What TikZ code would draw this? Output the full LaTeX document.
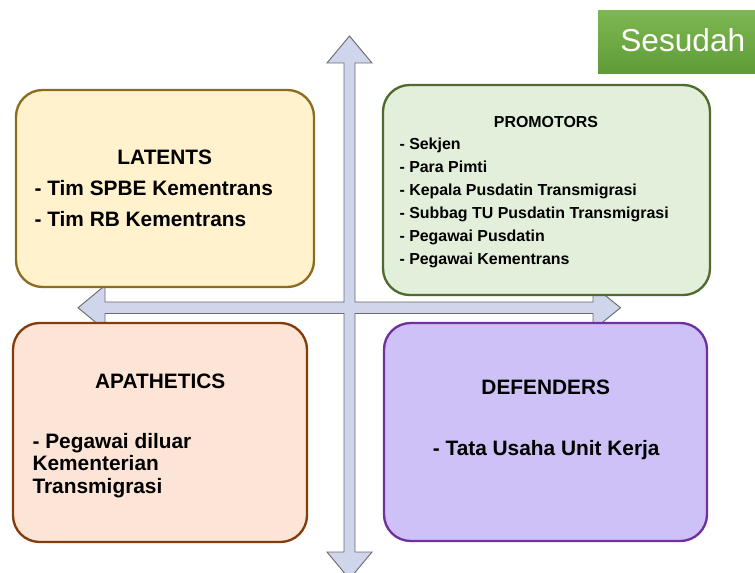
\documentclass[tikz,border=0pt]{standalone}
\usepackage{fontspec}
\setmainfont{Liberation Sans}
\usepackage{xcolor}
\definecolor{latfill}{HTML}{FFF2CC}
\definecolor{latdraw}{HTML}{8C6D1F}
\definecolor{profill}{HTML}{E2EFDA}
\definecolor{prodraw}{HTML}{4F6B2E}
\definecolor{apafill}{HTML}{FCE4D6}
\definecolor{apadraw}{HTML}{843C0C}
\definecolor{deffill}{HTML}{CDC1F7}
\definecolor{defdraw}{HTML}{7030A0}
\definecolor{axisfill}{HTML}{CFD5EA}
\definecolor{axisdraw}{HTML}{6B6B6B}
\definecolor{tagtop}{HTML}{7DB752}
\definecolor{tagbot}{HTML}{5E9B36}

\begin{document}
\begin{tikzpicture}[
      x=0.03cm, y=-0.03cm,
      quad/.style={line width=2pt, rounded corners=0.8cm},
      title/.style={font=\bfseries\fontsize{17.8}{21}\selectfont,
                    anchor=base, inner sep=0},
      item/.style={font=\bfseries\fontsize{17.8}{21}\selectfont,
                   anchor=base west, inner sep=0},
      smalltitle/.style={font=\bfseries\fontsize{13.6}{16}\selectfont,
                         anchor=base, inner sep=0},
      smallitem/.style={font=\bfseries\fontsize{13.6}{16}\selectfont,
                        anchor=base west, inner sep=0},
      axis/.style={draw=axisdraw, fill=axisfill, line width=0.8pt},
      tag/.style={top color=tagtop, bottom color=tagbot, inner sep=0},
    ]
    \useasboundingbox (0,0) rectangle (755,573);

    % Cross of arrows
    \draw[axis] (349.5,36) -- (372,63) -- (355,63) -- (355,302)
      -- (593,302) -- (593,285.5) -- (620.5,307.75) -- (593,330)
      -- (593,313.5) -- (355,313.5) -- (355,552) -- (372,552)
      -- (349.5,579) -- (327,552) -- (344,552) -- (344,313.5)
      -- (105,313.5) -- (105,330) -- (78,307.75) -- (105,285.5)
      -- (105,302) -- (344,302) -- (344,63) -- (327,63) -- cycle;

    % Quadrant boxes
    \node[quad, fill=latfill, draw=latdraw, minimum width=8.94cm,
      minimum height=5.91cm] (latents) at (165,188.5) {};
    \node[quad, fill=profill, draw=prodraw, minimum width=9.81cm,
      minimum height=6.3cm] (promotors) at (546.5,190) {};
    \node[quad, fill=apafill, draw=apadraw, minimum width=8.82cm,
      minimum height=6.57cm] (apathetics) at (160,432.5) {};
    \node[quad, fill=deffill, draw=defdraw, minimum width=9.69cm,
      minimum height=6.54cm] (defenders) at (545.5,432) {};

    % Latents
    \node[title] (latentsT) at (164.8,165) {LATENTS};
    \foreach \i/\t in {0/Tim SPBE Kementrans, 1/Tim RB Kementrans}
      \node[item] (lat-\i) at (34.3,195.5+31*\i) {- \t};

    % Promotors
    \node[smalltitle] (promotorsT) at (546,127.7) {PROMOTORS};
    \foreach \i/\t in {0/Sekjen, 1/Para Pimti,
                       2/Kepala Pusdatin Transmigrasi,
                       3/Subbag TU Pusdatin Transmigrasi,
                       4/Pegawai Pusdatin, 5/Pegawai Kementrans}
      \node[smallitem] (pro-\i) at (399.3,150+23*\i) {- \t};

    % Apathetics
    \node[title] (apatheticsT) at (160.2,388.3) {APATHETICS};
    \foreach \i/\t in {0/- Pegawai diluar, 1/Kementerian, 2/Transmigrasi}
      \node[item] (apa-\i) at (32.3,448.3+22.5*\i) {\t};

    % Defenders
    \node[title] (defendersT) at (545.8,394.3) {DEFENDERS};
    \node[title] (def-0) at (546.2,455) {- Tata Usaha Unit Kerja};

    % Tag
    \node[tag, minimum width=5.04cm, minimum height=1.89cm]
      (sesudah) at (682,42.5) {};
    \node[anchor=base, inner sep=0, text=white,
      font=\fontsize{27}{32}\selectfont] (sesudahT) at (682.8,51.7) {Sesudah};
  \end{tikzpicture}
\end{document}
